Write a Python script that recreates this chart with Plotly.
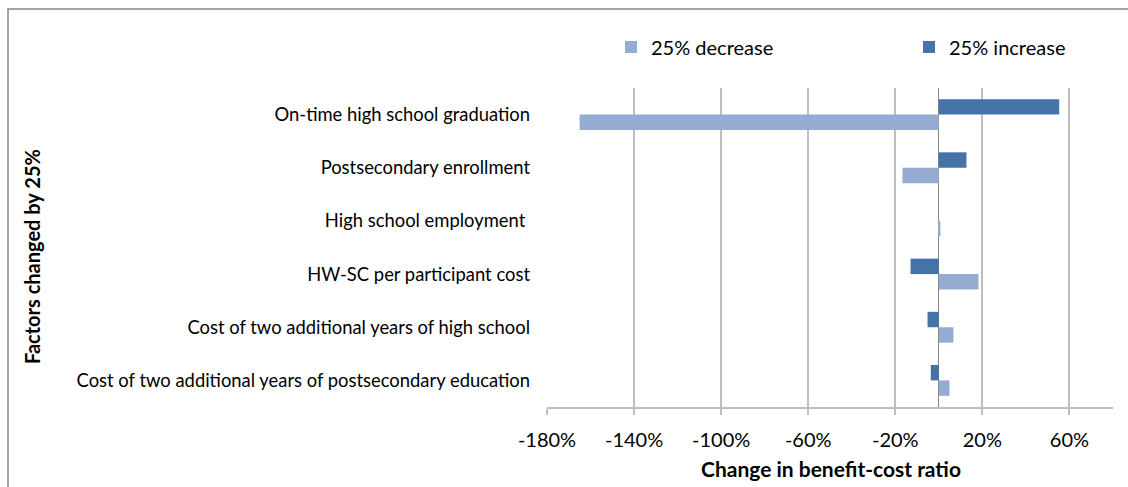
import plotly.graph_objects as go

# Sensitivity of the benefit-cost ratio to a 25% change in each factor
factors = [
    "On-time high school graduation",
    "Postsecondary enrollment",
    "High school employment ",
    "HW-SC per participant cost",
    "Cost of two additional years of high school",
    "Cost of two additional years of postsecondary education",
]
decrease_25 = [-165.0, -16.7, 0.7, 18.2, 6.7, 4.9]
increase_25 = [55.3, 12.7, 0.0, -13.0, -5.2, -3.7]

tick_values = [-180, -140, -100, -60, -20, 20, 60]
tick_labels = ["-180%", "-140%", "-100%", "-60%", "-20%", "20%", "60%"]

FONT = "Lato, 'Open Sans', sans-serif"
LIGHT = "#95ABD2"
DARK = "#4572A7"

W, H = 1128, 487
L, R, T, B = 547, 15, 88, 80
pw, ph = W - L - R, H - T - B


def px_x(px):
    return (px - L) / pw


def px_y(py):
    return (H - B - py) / ph


fig = go.Figure()
fig.add_trace(go.Bar(
    name="25% decrease", y=factors, x=decrease_25, orientation="h",
    marker=dict(color=LIGHT, line=dict(width=0)), legend="legend",
))
fig.add_trace(go.Bar(
    name="25% increase", y=factors, x=increase_25, orientation="h",
    marker=dict(color=DARK, line=dict(width=0)), legend="legend2",
))

legend_font = dict(family=FONT, size=20, color="#000000")
legend_common = dict(
    orientation="h", xanchor="left", yanchor="middle", y=px_y(47),
    font=legend_font, itemwidth=30, bgcolor="rgba(0,0,0,0)", borderwidth=0,
)

fig.update_layout(
    width=W, height=H,
    margin=dict(l=L, r=R, t=T, b=B, autoexpand=False),
    paper_bgcolor="white", plot_bgcolor="white",
    barmode="group", bargap=0.42, bargroupgap=0.0,
    font=dict(family=FONT, size=18, color="#000000"),
    legend=dict(x=px_x(611), **legend_common),
    legend2=dict(x=px_x(909), **legend_common),
    xaxis=dict(
        range=[-180, 80], tickvals=tick_values, ticktext=tick_labels,
        showgrid=True, gridcolor="#BFBFBF", gridwidth=1.5,
        zeroline=True, zerolinecolor="#868686", zerolinewidth=1.2,
        showline=True, linecolor="#BFBFBF", linewidth=1.5,
        ticks="outside", ticklen=6, tickcolor="#BFBFBF", tickwidth=1.5,
        ticklabelstandoff=8,
        tickfont=dict(family=FONT, size=20, color="#000000"),
        fixedrange=True,
    ),
    yaxis=dict(
        categoryorder="array", categoryarray=list(reversed(factors)),
        showgrid=False, zeroline=False, showline=False, ticks="",
        ticklabelstandoff=16,
        tickfont=dict(family=FONT, size=18.4, color="#000000"),
        fixedrange=True,
    ),
    showlegend=True,
)

# Axis titles
fig.add_annotation(
    text="<b>Change in benefit-cost ratio</b>", xref="paper", yref="paper",
    x=px_x(831), y=px_y(469), xanchor="center", yanchor="middle",
    showarrow=False, font=dict(family=FONT, size=21, color="#000000"),
)
fig.add_annotation(
    text="<b>Factors changed by 25%</b>", xref="paper", yref="paper",
    x=px_x(32), y=px_y(257), xanchor="center", yanchor="middle", textangle=-90,
    showarrow=False, font=dict(family=FONT, size=20, color="#000000"),
)

# Chart-area border (left and top edges fall inside the page)
fig.add_shape(
    type="rect", xref="paper", yref="paper",
    x0=px_x(8), x1=px_x(1140), y0=px_y(500), y1=px_y(9),
    line=dict(color="#868686", width=1.5), fillcolor="rgba(0,0,0,0)", layer="above",
)

fig.write_html("out.html")
